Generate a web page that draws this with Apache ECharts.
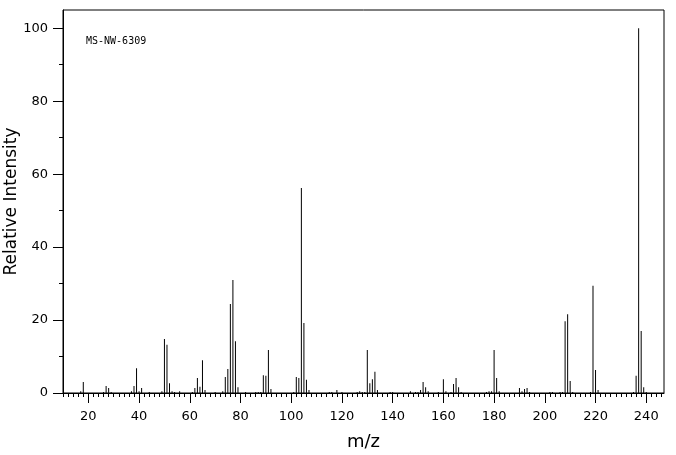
<!DOCTYPE html>
<html>
<head>
<meta charset="utf-8">
<script src="https://cdn.jsdelivr.net/npm/echarts@6/dist/echarts.min.js"></script>
<style>
  html, body { margin: 0; padding: 0; background: #fff; }
  #chart { width: 676px; height: 455px; }
</style>
</head>
<body>
<div id="chart"></div>
<script>
// m/z 与相对强度
var mzValues = [17, 18, 26, 27, 28, 29, 37, 38, 39, 40, 41, 44, 49, 50, 51, 52, 53, 54, 56,
  61, 62, 63, 64, 65, 66, 70, 73, 74, 75, 76, 77, 78, 79, 82, 86, 87, 88, 89, 90, 91, 92,
  101, 102, 103, 104, 105, 106, 107, 115, 116, 118, 120, 126, 127, 128, 129, 130, 131, 132,
  133, 134, 139, 140, 147, 149, 150, 151, 152, 153, 154, 158, 160, 161, 163, 164, 165, 166,
  167, 177, 178, 179, 180, 181, 182, 190, 191, 192, 193, 194, 202, 203, 206, 207, 208, 209,
  210, 211, 218, 219, 220, 221, 235, 236, 237, 238, 239, 240];
var intensities = [0.5, 3.0, 0.3, 1.9, 1.4, 0.3, 0.5, 1.9, 6.8, 0.5, 1.4, 0.3, 0.5, 14.8, 13.2, 2.7, 0.5, 0.3, 0.5,
  0.3, 1.4, 4.1, 1.7, 9.0, 0.8, 0.3, 0.5, 4.4, 6.6, 24.4, 31.0, 14.2, 1.6, 0.3, 0.3, 0.3, 0.3, 4.9, 4.7, 11.8, 1.1,
  0.3, 4.4, 4.1, 56.2, 19.2, 3.6, 0.8, 0.3, 0.3, 0.8, 0.3, 0.3, 0.5, 0.3, 0.3, 11.8, 2.7, 3.8,
  5.8, 0.8, 0.3, 0.3, 0.5, 0.3, 0.3, 0.8, 3.0, 1.6, 0.5, 0.3, 3.8, 0.5, 0.3, 2.5, 4.1, 1.6,
  0.3, 0.3, 0.5, 0.5, 11.8, 4.1, 0.5, 1.4, 0.5, 1.1, 1.4, 0.3, 0.3, 0.3, 0.3, 0.3, 19.7, 21.6,
  3.3, 0.3, 0.3, 29.4, 6.3, 0.8, 0.3, 4.7, 100, 17.0, 1.6, 0.3];
var xLabelValues = [20, 40, 60, 80, 100, 120, 140, 160, 180, 200, 220, 240];
var yLabelValues = [0, 20, 40, 60, 80, 100];
var yMinorValues = [10, 30, 50, 70, 90];

var xMinorValues = [];
for (let v = 10; v <= 246; v += 2) {
  if (v % 20 !== 0) xMinorValues.push(v);
}

var peaks = mzValues.map(function (mz, i) {
  return [mz, intensities[i]];
});

var labelFont = "DejaVu Sans";
var chart = echarts.init(document.getElementById("chart"), null, { renderer: "canvas" });

option = {
  animation: false,
  backgroundColor: "#fff",
  grid: {
    left: 63,
    right: 12,
    top: 10,
    bottom: 62,
    outerBoundsMode: "none",
    containLabel: false,
    show: true,
    borderColor: "#000",
    borderWidth: 1,
  },
  xAxis: [
    {
      type: "value",
      min: 10,
      max: 247,
      position: "bottom",
      name: "m/z",
      nameLocation: "middle",
      nameGap: 40,
      nameMoveOverlap: false,
      nameTextStyle: { fontFamily: labelFont, fontSize: 18, color: "#000" },
      axisLine: { show: true, lineStyle: { color: "#000", width: 1 } },
      axisTick: { show: true, length: 10, customValues: xLabelValues, lineStyle: { color: "#000" } },
      axisLabel: { customValues: xLabelValues, margin: 17, fontFamily: labelFont, fontSize: 13, color: "#000" },
      splitLine: { show: false },
    },
    {
      type: "value",
      min: 10,
      max: 247,
      position: "bottom",
      axisLine: { show: false },
      axisTick: { show: true, length: 4, customValues: xMinorValues, lineStyle: { color: "#000" } },
      axisLabel: { show: false },
      splitLine: { show: false },
    },
  ],
  yAxis: [
    {
      type: "value",
      min: 0,
      max: 105,
      position: "left",
      name: "Relative Intensity",
      nameLocation: "middle",
      nameGap: 43,
      nameMoveOverlap: false,
      nameTextStyle: { fontFamily: labelFont, fontSize: 17, color: "#000" },
      axisLine: { show: true, lineStyle: { color: "#000", width: 1 } },
      axisTick: { show: true, length: 10, customValues: yLabelValues, lineStyle: { color: "#000" } },
      axisLabel: { customValues: yLabelValues, margin: 15, fontFamily: labelFont, fontSize: 13, color: "#000" },
      splitLine: { show: false },
    },
    {
      type: "value",
      min: 0,
      max: 105,
      position: "left",
      axisLine: { show: false },
      axisTick: { show: true, length: 4, customValues: yMinorValues, lineStyle: { color: "#000" } },
      axisLabel: { show: false },
      splitLine: { show: false },
    },
  ],
  graphic: [
    {
      type: "text",
      left: 86,
      top: 36,
      style: {
        text: "MS-NW-6309",
        fontFamily: "DejaVu Sans Mono",
        fontSize: 10,
        fill: "#000",
      },
    },
  ],
  series: [
    {
      type: "bar",
      xAxisIndex: 0,
      yAxisIndex: 0,
      barWidth: 1,
      itemStyle: { color: "#000" },
      data: peaks,
    },
  ],
};

chart.setOption(option);
</script>
</body>
</html>
